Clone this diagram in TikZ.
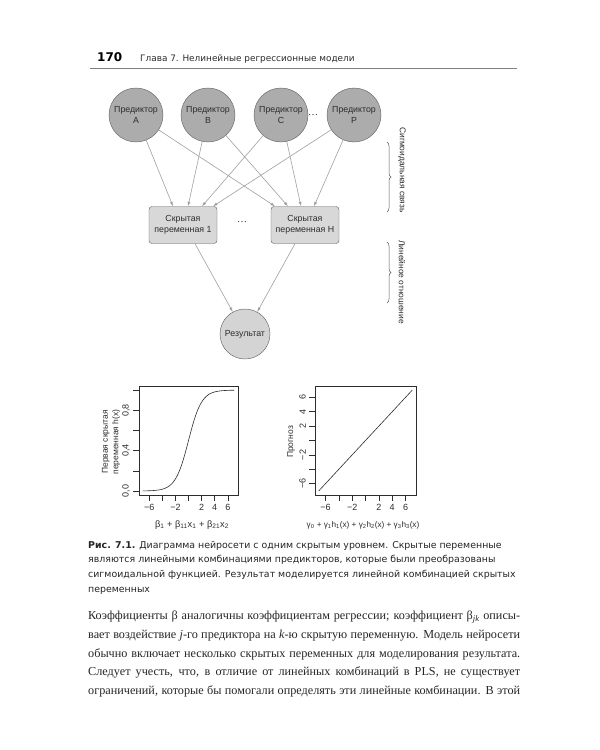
\documentclass[tikz,border=0pt]{standalone}
\usepackage{fontspec}
\setmainfont{Liberation Serif}
\setsansfont{Liberation Sans}
\newfontfamily\capfont{DejaVu Sans}
\usetikzlibrary{positioning,arrows.meta,calc,decorations.pathreplacing}
\definecolor{predgray}{RGB}{172,172,172}
\definecolor{boxgray}{RGB}{216,216,216}
\definecolor{resgray}{RGB}{212,212,212}
\definecolor{edgegray}{RGB}{90,90,90}
\definecolor{linkgray}{RGB}{160,160,160}
\definecolor{inkgray}{RGB}{45,45,45}

\begin{document}
\begin{tikzpicture}[x=1pt,y=-1pt,>={Latex[length=4.5pt,width=3pt]},
  pred/.style={circle,draw=edgegray,fill=predgray,minimum size=54pt,inner sep=0pt,align=center,
    text=inkgray,font=\sffamily\fontsize{8.8}{11.5}\selectfont},
  hid/.style={rectangle,rounded corners=3pt,draw=edgegray,fill=boxgray,minimum width=68pt,
    minimum height=37pt,align=center,text=inkgray,font=\sffamily\fontsize{8.8}{11.5}\selectfont},
  link/.style={draw=linkgray,line width=0.6pt,->},
  brc/.style={draw=edgegray,line width=0.5pt,decorate,decoration={brace,amplitude=4pt}},
  side/.style={rotate=-90,text=inkgray,font=\sffamily\fontsize{8.4}{10}\selectfont},
  tick/.style={line width=0.5pt,draw=inkgray},
  ticklbl/.style={inner sep=1pt,text=inkgray,font=\sffamily\fontsize{9}{10}\selectfont},
  axlbl/.style={align=center,text=inkgray,font=\sffamily\fontsize{8.5}{10.5}\selectfont}]
\useasboundingbox[fill=white] (0,0) rectangle (600,750);

% running head
\node[anchor=base west,inner sep=0,font=\capfont\bfseries\fontsize{12}{14}\selectfont] (pagenum) at (97,61) {170};
\node[anchor=base west,inner sep=0,text=inkgray,font=\capfont\fontsize{8.9}{11}\selectfont] (runhead) at (140,61) {Глава 7. Нелинейные регрессионные модели};
\draw[gray,line width=0.8pt] (90,68) -- (517,68);

% network
\foreach \x/\nm/\lt in {136/pA/A,208/pB/B,281/pC/C,354/pP/P}
  \node[pred] (\nm) at (\x,115) {Предиктор\\\lt};
\node[text=inkgray] (pdots) at (313,115) {\dots};
\node[hid] (h1) at (183,225) {Скрытая\\переменная 1};
\node[hid] (hH) at (305,225) {Скрытая\\переменная H};
\node[text=inkgray] (hdots) at (242,222) {\dots};
\node[pred,fill=resgray,minimum size=50pt] (res) at (245,334) {Результат};

\foreach \p/\da/\db in {pA/-10/-30,pB/5/-17,pC/19/-4,pP/30/9}{
  \draw[link] (\p) -- ($(h1.north)+(\da,0)$);
  \draw[link] (\p) -- ($(hH.north)+(\db,0)$);
}
\draw[link] ($(h1.south)+(12,0)$) -- (res);
\draw[link] ($(hH.south)+(-10,0)$) -- (res);

% braces
\draw[brc] (387,142) -- (387,212);
\node[side] (sigtxt) at (402,170) {Сигмоидальная связь};
\draw[brc] (387,242) -- (387,303);
\node[side] (lintxt) at (402,282) {Линейное отношение};

% left plot: sigmoid
\draw[tick] (139,386) rectangle (238,495);
\begin{scope}[shift={(188.5,491)},x=6.55pt,y=100.9pt]
  \draw[inkgray,line width=0.6pt,domain=-7:7,samples=90,smooth] plot (\x,{1/(1+exp(-\x))});
  \foreach \t in {-6,-4,...,6} \draw[tick] (\t,-0.04) -- ++(0,-6pt);
  \foreach \t/\s in {-6/−6,-2/−2,2/2,4/4,6/6}
    \node[ticklbl,anchor=north] (lx\t) at ([yshift=-8pt]\t,-0.04) {\s};
  \foreach \t in {0,0.2,...,1.0} \draw[tick] (-7.56,\t) -- ++(-6pt,0);
  \foreach \t/\d in {0/0,0.4/4,0.8/8}
    \node[ticklbl,anchor=south,rotate=90] (ly\d) at ([xshift=-8pt]-7.56,\t) {0,\d};
\end{scope}
\node[axlbl,font=\sffamily\fontsize{9.3}{11}\selectfont] (lxlbl) at (192,525) {β\textsubscript{1} + β\textsubscript{11}x\textsubscript{1} + β\textsubscript{21}x\textsubscript{2}};
\node[axlbl,rotate=90] (lylbl) at (111,442) {Первая скрытая\\переменная h(x)};

% right plot: linear
\draw[tick] (315,386) rectangle (416,495);
\begin{scope}[shift={(365.5,440.5)},x=6.68pt,y=7.2pt]
  \draw[inkgray,line width=0.6pt] (-7,-7) -- (7,7);
  \foreach \t in {-6,-4,...,6} \draw[tick] (\t,-7.56) -- ++(0,-6pt);
  \foreach \t/\s in {-6/−6,-2/−2,2/2,4/4,6/6}
    \node[ticklbl,anchor=north] (rx\t) at ([yshift=-8pt]\t,-7.56) {\s};
  \foreach \t in {-6,-4,...,6} \draw[tick] (-7.56,\t) -- ++(-6pt,0);
  \foreach \t/\s in {-6/−6,-2/−2,2/2,4/4,6/6}
    \node[ticklbl,anchor=south,rotate=90] (ry\t) at ([xshift=-8pt]-7.56,\t) {\s};
\end{scope}
\node[axlbl,font=\sffamily\fontsize{8.2}{10}\selectfont] (rxlbl) at (363,525) {γ\textsubscript{0} + γ\textsubscript{1}h\textsubscript{1}(x) + γ\textsubscript{2}h\textsubscript{2}(x) + γ\textsubscript{3}h\textsubscript{3}(x)};
\node[axlbl,rotate=90] (rylbl) at (291,442) {Прогноз};

% caption
\node[anchor=north west,inner sep=0,align=left,text=black!85,font=\capfont\fontsize{9.4}{14.6}\selectfont] (caption) at (88,541)
  {\textbf{Рис. 7.1.} Диаграмма нейросети с одним скрытым уровнем. Скрытые переменные\\
   являются линейными комбинациями предикторов, которые были преобразованы\\
   сигмоидальной функцией. Результат моделируется линейной комбинацией скрытых\\
   переменных};

% body text
\node[anchor=north west,inner sep=0,align=left,text=black!85,font=\fontsize{12.2}{18.7}\selectfont] (bodytxt) at (88,611)
  {\makebox[432pt][s]{Коэффициенты β аналогичны коэффициентам регрессии; коэффициент β\textsubscript{\itshape jk} описы-}\\
   \makebox[432pt][s]{вает воздействие \textit{j}-го предиктора на \textit{k}-ю скрытую переменную. Модель нейросети}\\
   \makebox[432pt][s]{обычно включает несколько скрытых переменных для моделирования результата.}\\
   \makebox[432pt][s]{Следует учесть, что, в отличие от линейных комбинаций в PLS, не существует}\\
   \makebox[432pt][s]{ограничений, которые бы помогали определять эти линейные комбинации. В этой}};
\end{tikzpicture}
\end{document}
